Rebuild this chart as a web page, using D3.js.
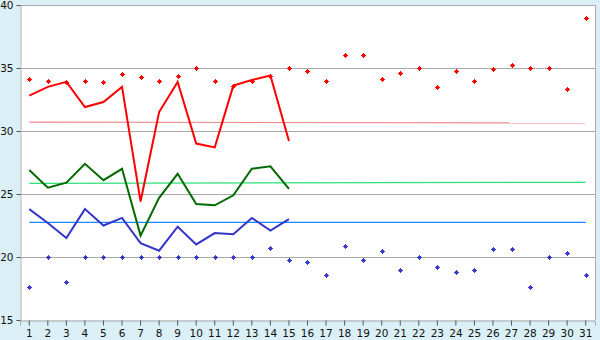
<!DOCTYPE html>
<html>
<head>
<meta charset="utf-8">
<script src="https://cdn.jsdelivr.net/npm/d3@7"></script>
<style>
    body { margin: 0; background: #daeff6; }
    svg { display: block; }
</style>
</head>
<body>
<div id="chart"></div>
<script>
// days of the month
const days = d3.range(1, 32)

// daily points
const highPoints = [34.1, 34.0, 33.9, 34.0, 33.9, 34.5, 34.3, 34.0, 34.4, 35.0,
    34.0, 33.6, 34.0, 34.4, 35.0, 34.8, 34.0, 36.0, 36.0, 34.1,
    34.6, 35.0, 33.5, 34.8, 34.0, 34.9, 35.2, 35.0, 35.0, 33.3, 39.0]
const lowPoints = [17.6, 20.0, 18.0, 20.0, 20.0, 20.0, 20.0, 20.0, 20.0, 20.0,
    20.0, 20.0, 20.0, 20.7, 19.8, 19.6, 18.55, 20.9, 19.8, 20.45,
    19.0, 20.0, 19.2, 18.8, 19.0, 20.6, 20.6, 17.6, 20.0, 20.3, 18.55]

// lines for days 1..15
const highLine = [32.8, 33.5, 33.9, 31.9, 32.3, 33.5, 24.4, 31.5, 33.9, 29.0,
    28.7, 33.6, 34.05, 34.4, 29.2]
const midLine = [26.9, 25.5, 25.9, 27.4, 26.1, 27.0, 21.7, 24.7, 26.6, 24.2,
    24.1, 24.9, 27.0, 27.2, 25.4]
const lowLine = [23.8, 22.7, 21.5, 23.8, 22.5, 23.1, 21.1, 20.5, 22.4, 21.0,
    21.9, 21.8, 23.1, 22.1, 23.0]

// average lines, first and last day
const avgDays = [1, 31]
const avgHigh = [30.7, 30.64]
const avgMid = [25.85, 25.93]
const avgLow = [22.75, 22.75]

const yTicks = [15, 20, 25, 30, 35, 40]

let width = 600,
    height = 340

let svg = d3.select('#chart')
    .append('svg')
    .attr("width", width)
    .attr("height", height)

let x = d3.scaleBand().domain(days).range([20, 595])
let xc = function (d) { return x(d) + x.bandwidth() / 2 }
let y = d3.scaleLinear().domain([15, 40]).range([320, 5])

svg.append("rect")
    .attr("x", 20).attr("y", 5)
    .attr("width", 575).attr("height", 315)
    .attr("fill", "white")

// grid
svg.append("g").selectAll("line")
    .data(yTicks.slice(1))
    .enter().append("line")
    .attr("x1", 20).attr("x2", 595)
    .attr("y1", function (d) { return Math.round(y(d)) + 0.5 })
    .attr("y2", function (d) { return Math.round(y(d)) + 0.5 })
    .attr("stroke", "#aaaaaa")

svg.append("line")
    .attr("x1", 595.5).attr("x2", 595.5)
    .attr("y1", 5).attr("y2", 320)
    .attr("stroke", "#aaaaaa")

let yAxis = svg.append("g")
    .attr("transform", "translate(20.5,0)")
    .call(d3.axisLeft(y).tickValues(yTicks).tickSize(4).tickPadding(3))
yAxis.select(".domain").attr("stroke", "#aaaaaa")
yAxis.selectAll(".tick line").attr("stroke", "#555")
yAxis.selectAll("text")
    .attr("font-family", "DejaVu Sans, Verdana, sans-serif")
    .attr("font-size", 10.5)
    .attr("fill", "#111")

let xAxis = svg.append("g")
    .attr("transform", "translate(0,320.5)")
    .call(d3.axisBottom(x).tickSize(5).tickPadding(4))
xAxis.select(".domain").attr("stroke", "#aaaaaa")
xAxis.selectAll(".tick line").attr("stroke", "#555")
xAxis.selectAll("text")
    .attr("font-family", "DejaVu Sans, Verdana, sans-serif")
    .attr("font-size", 10.5)
    .attr("fill", "#111")

// average lines
let avgLine = d3.line()
    .x(function (d, i) { return xc(avgDays[i]) })
    .y(function (d) { return y(d) })

let avgs = [
    { values: avgHigh, color: "#f08888" },
    { values: avgMid, color: "#2ee07a" },
    { values: avgLow, color: "#1a88ff" }
]
svg.selectAll(".avg")
    .data(avgs)
    .enter().append("path")
    .attr("class", "avg")
    .attr("d", function (d) { return avgLine(d.values) })
    .attr("fill", "none")
    .attr("stroke", function (d) { return d.color })
    .attr("stroke-width", 1.2)

// daily lines
let dayLine = d3.line()
    .x(function (d, i) { return xc(days[i]) })
    .y(function (d) { return y(d) })

let lines = [
    { values: lowLine, color: "#3535cc" },
    { values: midLine, color: "#006a00" },
    { values: highLine, color: "#ff0000" }
]
svg.selectAll(".series")
    .data(lines)
    .enter().append("path")
    .attr("class", "series")
    .attr("d", function (d) { return dayLine(d.values) })
    .attr("fill", "none")
    .attr("stroke", function (d) { return d.color })
    .attr("stroke-width", 2)

// point markers: small cross with a 3x3 centre
let marker = "M-0.5,-2.5h1v1h1v1h1v1h-1v1h-1v1h-1v-1h-1v-1h-1v-1h1v-1h1z"

let pointSets = [
    { values: highPoints, color: "#ff0000" },
    { values: lowPoints, color: "#3a3acc" }
]
pointSets.forEach(function (set) {
    svg.append("g").selectAll("path")
        .data(set.values)
        .enter().append("path")
        .attr("d", marker)
        .attr("transform", function (d, i) {
            return "translate(" + (Math.round(xc(days[i])) + 0.5) + "," + (Math.round(y(d)) + 0.5) + ")"
        })
        .attr("fill", set.color)
})
</script>
</body>
</html>
